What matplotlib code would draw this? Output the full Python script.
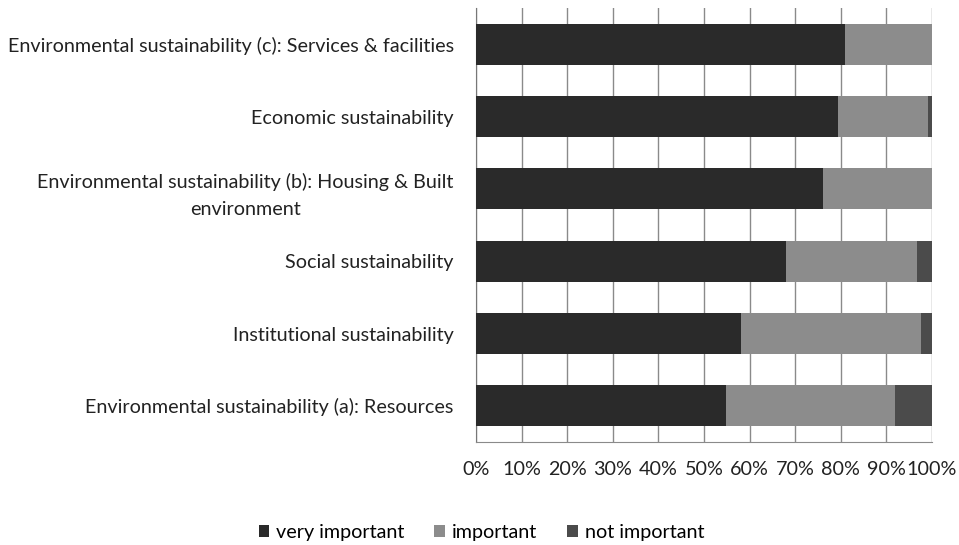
import matplotlib
matplotlib.use("Agg")
import matplotlib.pyplot as plt
import numpy as np

categories = [
    "Environmental sustainability (a): Resources",
    "Institutional sustainability",
    "Social sustainability",
    "Environmental sustainability (b): Housing & Built\nenvironment",
    "Economic sustainability",
    "Environmental sustainability (c): Services & facilities",
]
very_important = [54.9, 58.1, 68.0, 76.0, 79.3, 81.0]
important = [36.9, 39.4, 28.7, 24.0, 19.9, 19.0]
not_important = [8.2, 2.5, 3.3, 0.0, 0.8, 0.0]
series_names = ["very important", "important", "not important"]
colors = ["#2a2a2a", "#8c8c8c", "#4b4b4b"]
xtick_labels = ["0%", "10%", "20%", "30%", "40%", "50%", "60%", "70%", "80%", "90%", "100%"]

plt.rcParams['font.family'] = ['Lato', 'DejaVu Sans']

fig = plt.figure(figsize=(9.59, 5.45), dpi=100)
ax = fig.add_axes([476/959, 1-442/545, (932-476)/959, (442-8)/545])

y = np.arange(len(categories))
vi = np.array(very_important)
im = np.array(important)
ni = np.array(not_important)
h = 0.57
b1 = ax.barh(y, vi, height=h, color=colors[0], label=series_names[0], zorder=3)
b2 = ax.barh(y, im, left=vi, height=h, color=colors[1], label=series_names[1], zorder=3)
b3 = ax.barh(y, ni, left=vi+im, height=h, color=colors[2], label=series_names[2], zorder=3)

fs = 14.2
ax.set_xlim(0, 100)
ax.set_ylim(-0.5, len(categories)-0.5)
ax.set_xticks(np.arange(0, 101, 10))
ax.set_xticklabels(xtick_labels, fontsize=fs, color="#222222")
ax.set_yticks(y)
ax.set_yticklabels(categories, fontsize=fs, color="#222222")
for t in ax.get_yticklabels():
    t.set_multialignment('center')
    t.set_linespacing(1.7)
ax.tick_params(axis='x', length=0, pad=14)
ax.tick_params(axis='y', length=0, pad=16)
ax.grid(axis='x', color="#8a8a8a", linewidth=1.0, zorder=0)
for s in ['top', 'right']:
    ax.spines[s].set_visible(False)
ax.spines['left'].set_color("#777777")
ax.spines['bottom'].set_color("#8a8a8a")

fig.legend(handles=[b1, b2, b3], labels=series_names, loc='lower center',
           bbox_to_anchor=(0.502, -0.025), ncol=3, frameon=False, fontsize=fs,
           handlelength=0.55, handleheight=0.55, handletextpad=0.35, columnspacing=1.5)

fig.savefig("out.png", dpi=100)
